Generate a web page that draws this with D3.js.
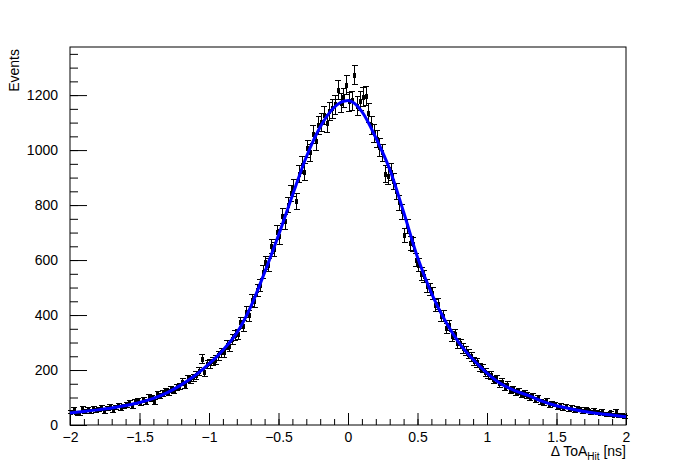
<!DOCTYPE html>
<html><head><meta charset="utf-8">
<script src="https://cdn.jsdelivr.net/npm/d3@7"></script>
<style>
body{margin:0;background:#fff}
text{font-family:"Liberation Sans",Arial,Helvetica,sans-serif}
</style>
</head><body>
<svg id="c" width="696" height="472"></svg>
<script>
// ---- data ----
const xMin = -2, xMax = 2, binWidth = 0.02;
const counts = [
  47, 55, 43, 41, 58, 50, 56, 48, 61, 53,
  57, 62, 50, 60, 66, 54, 63, 71, 62, 68,
  74, 80, 69, 82, 86, 78, 91, 85, 100, 97,
  84, 110, 106, 115, 121, 117, 128, 125, 136, 140,
  155, 145, 168, 165, 172, 180, 195, 240, 192, 220,
  222, 232, 236, 252, 262, 262, 290, 285, 312, 325,
  330, 372, 360, 410, 398, 452, 448, 490, 508, 556,
  590, 582, 648, 638, 700, 684, 760, 740, 800, 842,
  862, 812, 912, 945, 920, 1005, 990, 1058, 1030, 1090,
  1100, 1125, 1098, 1140, 1150, 1165, 1218, 1170, 1190, 1236,
  1175, 1180, 1273, 1160, 1178, 1192, 1195, 1134, 1090, 1062,
  1040, 1010, 990, 912, 905, 920, 885, 850, 808, 775,
  690, 722, 660, 655, 600, 582, 548, 540, 505, 492,
  478, 435, 440, 395, 395, 352, 362, 322, 330, 296,
  295, 278, 268, 258, 248, 232, 226, 210, 206, 190,
  182, 180, 165, 168, 150, 155, 138, 145, 125, 130,
  118, 122, 110, 115, 108, 100, 105, 92, 98, 85,
  80, 86, 72, 78, 75, 64, 70, 60, 68, 55,
  62, 52, 58, 55, 48, 56, 51, 46, 52, 47,
  43, 48, 40, 38, 44, 36, 50, 33, 35, 30
];
const fitX = [-2,-1.9,-1.8,-1.7,-1.6,-1.5,-1.4,-1.3,-1.2,-1.1,-1,-0.9,-0.8,-0.7,-0.6,-0.5,-0.4,-0.3,-0.2,-0.1,0,
  0.1,0.2,0.3,0.4,0.5,0.6,0.7,0.8,0.9,1,1.1,1.2,1.3,1.4,1.5,1.6,1.7,1.8,1.9,2];
const fitY = [44,49,55,62,71,82,97,118,146,180,222,272,335,430,555,690,835,975,1084,1155,1180,
  1140,1045,930,775,610,480,378,298,238,189,150,125,107,86,70,59,49,42,36,30];
const xTicks = [-2,-1.5,-1,-0.5,0,0.5,1,1.5,2];
const xMinorTicks = d3.range(-20, 21).map(d => d / 10);
const yTicks = [0,200,400,600,800,1000,1200];
const yMinorTicks = d3.range(0, 1351, 50);
const yMax = 1375;

// ---- layout ----
const L = 70, R = 626, T = 47, B = 425;
const svg = d3.select("#c");
const x = d3.scaleLinear([xMin, xMax], [L, R]);
const y = d3.scaleLinear([0, yMax], [B, T]);
const fs = 14;

// minor ticks
svg.append("g").attr("transform", `translate(0,${B})`)
  .call(d3.axisBottom(x).tickValues(xMinorTicks).tickSizeInner(-6).tickSizeOuter(0).tickFormat(""))
  .call(g => g.select(".domain").remove());
svg.append("g").attr("transform", `translate(${L},0)`)
  .call(d3.axisLeft(y).tickValues(yMinorTicks).tickSizeInner(-8).tickSizeOuter(0).tickFormat(""))
  .call(g => g.select(".domain").remove());
// major ticks
const gx = svg.append("g").attr("transform", `translate(0,${B})`)
  .call(d3.axisBottom(x).tickValues(xTicks).tickSizeInner(-12).tickSizeOuter(0).tickPadding(7).tickFormat(d3.format("")))
  .call(g => g.select(".domain").remove());
gx.selectAll("text").attr("font-size", fs).attr("font-family", null).attr("fill", "#000");
const gy = svg.append("g").attr("transform", `translate(${L},0)`)
  .call(d3.axisLeft(y).tickValues(yTicks).tickSizeInner(-17).tickSizeOuter(0).tickPadding(12).tickFormat(d3.format("d")))
  .call(g => g.select(".domain").remove());
gy.selectAll("text").attr("font-size", fs).attr("font-family", null).attr("fill", "#000");
svg.selectAll(".tick line").attr("stroke", "#000");

// frame
svg.append("rect").attr("x", L).attr("y", T).attr("width", R - L).attr("height", B - T)
  .attr("fill", "none").attr("stroke", "#000").attr("stroke-width", 1);

// data points with errors
const bins = counts.map((c, i) => ({xc: xMin + (i + 0.5) * binWidth, c, e: Math.sqrt(c)}));
const gp = svg.append("g").attr("stroke", "#000").attr("stroke-width", 1).attr("shape-rendering", "crispEdges");
const pt = gp.selectAll("g").data(bins).join("g");
pt.append("line").attr("x1", d => x(d.xc)).attr("x2", d => x(d.xc))
  .attr("y1", d => y(d.c - d.e)).attr("y2", d => y(d.c + d.e));
pt.append("line").attr("x1", d => x(d.xc) - 3).attr("x2", d => x(d.xc) + 3)
  .attr("y1", d => y(d.c + d.e)).attr("y2", d => y(d.c + d.e));
pt.append("line").attr("x1", d => x(d.xc) - 3).attr("x2", d => x(d.xc) + 3)
  .attr("y1", d => y(d.c - d.e)).attr("y2", d => y(d.c - d.e));
pt.append("line").attr("x1", d => x(d.xc - binWidth / 2)).attr("x2", d => x(d.xc + binWidth / 2))
  .attr("y1", d => y(d.c)).attr("y2", d => y(d.c));
pt.append("rect").attr("x", d => x(d.xc) - 1.5).attr("y", d => y(d.c) - 2.5)
  .attr("width", 3).attr("height", 5).attr("fill", "#000").attr("stroke", "none");

// fit curve
const line = d3.line().x((d, i) => x(fitX[i])).y(d => y(d)).curve(d3.curveMonotoneX);
svg.append("path").attr("d", line(fitY)).attr("fill", "none")
  .attr("stroke", "#0000ff").attr("stroke-width", 3);

// titles
const xt = svg.append("text").attr("x", R).attr("y", 456).attr("text-anchor", "end")
  .attr("font-size", fs).attr("fill", "#000");
xt.append("tspan").text("Δ ToA");
xt.append("tspan").attr("font-size", 10).attr("dy", 4).text("Hit");
xt.append("tspan").attr("dy", -4).text(" [ns]");
svg.append("text").attr("transform", "translate(19,49) rotate(-90)").attr("text-anchor", "end")
  .attr("font-size", fs).attr("fill", "#000").text("Events");
</script>
</body></html>
